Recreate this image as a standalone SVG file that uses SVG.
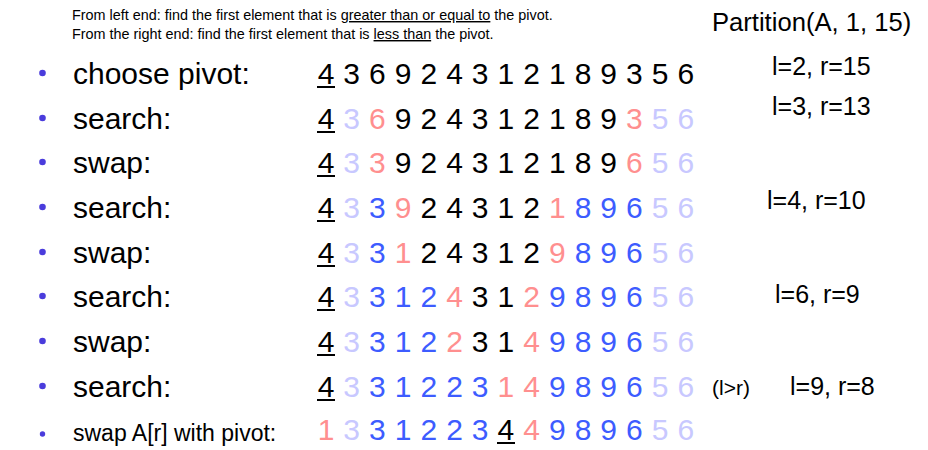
<svg xmlns="http://www.w3.org/2000/svg" width="928" height="450" viewBox="0 0 928 450">
<style>
text{font-family:"Liberation Sans",Arial,sans-serif;fill:#000}
.note{font-size:14.4px}
.lbl{font-size:30px}
.small{font-size:23px}
.d{font-size:30px;text-anchor:middle}
.st{font-size:25px}
.k{fill:#000}.l{fill:#c8c8ff}.p{fill:#ff8f8f}.b{fill:#3d5cff}
.bul{fill:#4a3cdc}
.ul{stroke:#000;stroke-width:2}
</style>
<rect width="928" height="450" fill="#fff"/>
<g id="notes">
<text class="note" x="72" y="20">From left end: find the first element that is <tspan text-decoration="underline" style="text-decoration-color:#777">greater than or equal to</tspan> the pivot.</text>
<text class="note" x="72" y="39">From the right end: find the first element that is <tspan text-decoration="underline">less than</tspan> the pivot.</text>
</g>
<g id="title"><text class="st" x="712" y="31" style="font-size:25.6px">Partition(A, 1, 15)</text></g>
<g id="state">
<text class="st" x="772" y="75">l=2, r=15</text>
<text class="st" x="772" y="115">l=3, r=13</text>
<text class="st" x="767" y="209">l=4, r=10</text>
<text class="st" x="775" y="303">l=6, r=9</text>
<text class="small" x="712" y="395" style="font-size:21px">(l&gt;r)</text>
<text class="st" x="790" y="395">l=9, r=8</text>
</g>
<g id="labels">
<circle class="bul" cx="42.5" cy="73" r="3.3"/><text class="lbl" x="73" y="84">choose pivot:</text>
<circle class="bul" cx="42.5" cy="118" r="3.3"/><text class="lbl" x="73" y="129">search:</text>
<circle class="bul" cx="42.5" cy="162" r="3.3"/><text class="lbl" x="73" y="173">swap:</text>
<circle class="bul" cx="42.5" cy="207" r="3.3"/><text class="lbl" x="73" y="218">search:</text>
<circle class="bul" cx="42.5" cy="252" r="3.3"/><text class="lbl" x="73" y="263">swap:</text>
<circle class="bul" cx="42.5" cy="296" r="3.3"/><text class="lbl" x="73" y="307">search:</text>
<circle class="bul" cx="42.5" cy="341" r="3.3"/><text class="lbl" x="73" y="352">swap:</text>
<circle class="bul" cx="42.5" cy="386" r="3.3"/><text class="lbl" x="73" y="397">search:</text>
<circle class="bul" cx="42.5" cy="434" r="2.7"/><text class="small" x="73" y="441">swap A[r] with pivot:</text>
</g>
<g id="row1">
<text class="d k" x="326" y="84">4</text><text class="d k" x="351.7" y="84">3</text><text class="d k" x="377.4" y="84">6</text><text class="d k" x="403.1" y="84">9</text><text class="d k" x="428.8" y="84">2</text><text class="d k" x="454.5" y="84">4</text><text class="d k" x="480.2" y="84">3</text><text class="d k" x="505.9" y="84">1</text><text class="d k" x="531.6" y="84">2</text><text class="d k" x="557.3" y="84">1</text><text class="d k" x="583" y="84">8</text><text class="d k" x="608.7" y="84">9</text><text class="d k" x="634.4" y="84">3</text><text class="d k" x="660.1" y="84">5</text><text class="d k" x="685.8" y="84">6</text>
<line class="ul" x1="317" y1="87" x2="335" y2="87"/>
</g>
<g id="row2">
<text class="d k" x="326" y="129">4</text><text class="d l" x="351.7" y="129">3</text><text class="d p" x="377.4" y="129">6</text><text class="d k" x="403.1" y="129">9</text><text class="d k" x="428.8" y="129">2</text><text class="d k" x="454.5" y="129">4</text><text class="d k" x="480.2" y="129">3</text><text class="d k" x="505.9" y="129">1</text><text class="d k" x="531.6" y="129">2</text><text class="d k" x="557.3" y="129">1</text><text class="d k" x="583" y="129">8</text><text class="d k" x="608.7" y="129">9</text><text class="d p" x="634.4" y="129">3</text><text class="d l" x="660.1" y="129">5</text><text class="d l" x="685.8" y="129">6</text>
<line class="ul" x1="317" y1="132" x2="335" y2="132"/>
</g>
<g id="row3">
<text class="d k" x="326" y="173">4</text><text class="d l" x="351.7" y="173">3</text><text class="d p" x="377.4" y="173">3</text><text class="d k" x="403.1" y="173">9</text><text class="d k" x="428.8" y="173">2</text><text class="d k" x="454.5" y="173">4</text><text class="d k" x="480.2" y="173">3</text><text class="d k" x="505.9" y="173">1</text><text class="d k" x="531.6" y="173">2</text><text class="d k" x="557.3" y="173">1</text><text class="d k" x="583" y="173">8</text><text class="d k" x="608.7" y="173">9</text><text class="d p" x="634.4" y="173">6</text><text class="d l" x="660.1" y="173">5</text><text class="d l" x="685.8" y="173">6</text>
<line class="ul" x1="317" y1="176" x2="335" y2="176"/>
</g>
<g id="row4">
<text class="d k" x="326" y="218">4</text><text class="d l" x="351.7" y="218">3</text><text class="d b" x="377.4" y="218">3</text><text class="d p" x="403.1" y="218">9</text><text class="d k" x="428.8" y="218">2</text><text class="d k" x="454.5" y="218">4</text><text class="d k" x="480.2" y="218">3</text><text class="d k" x="505.9" y="218">1</text><text class="d k" x="531.6" y="218">2</text><text class="d p" x="557.3" y="218">1</text><text class="d b" x="583" y="218">8</text><text class="d b" x="608.7" y="218">9</text><text class="d b" x="634.4" y="218">6</text><text class="d l" x="660.1" y="218">5</text><text class="d l" x="685.8" y="218">6</text>
<line class="ul" x1="317" y1="221" x2="335" y2="221"/>
</g>
<g id="row5">
<text class="d k" x="326" y="263">4</text><text class="d l" x="351.7" y="263">3</text><text class="d b" x="377.4" y="263">3</text><text class="d p" x="403.1" y="263">1</text><text class="d k" x="428.8" y="263">2</text><text class="d k" x="454.5" y="263">4</text><text class="d k" x="480.2" y="263">3</text><text class="d k" x="505.9" y="263">1</text><text class="d k" x="531.6" y="263">2</text><text class="d p" x="557.3" y="263">9</text><text class="d b" x="583" y="263">8</text><text class="d b" x="608.7" y="263">9</text><text class="d b" x="634.4" y="263">6</text><text class="d l" x="660.1" y="263">5</text><text class="d l" x="685.8" y="263">6</text>
<line class="ul" x1="317" y1="266" x2="335" y2="266"/>
</g>
<g id="row6">
<text class="d k" x="326" y="307">4</text><text class="d l" x="351.7" y="307">3</text><text class="d b" x="377.4" y="307">3</text><text class="d b" x="403.1" y="307">1</text><text class="d b" x="428.8" y="307">2</text><text class="d p" x="454.5" y="307">4</text><text class="d k" x="480.2" y="307">3</text><text class="d k" x="505.9" y="307">1</text><text class="d p" x="531.6" y="307">2</text><text class="d b" x="557.3" y="307">9</text><text class="d b" x="583" y="307">8</text><text class="d b" x="608.7" y="307">9</text><text class="d b" x="634.4" y="307">6</text><text class="d l" x="660.1" y="307">5</text><text class="d l" x="685.8" y="307">6</text>
<line class="ul" x1="317" y1="310" x2="335" y2="310"/>
</g>
<g id="row7">
<text class="d k" x="326" y="352">4</text><text class="d l" x="351.7" y="352">3</text><text class="d b" x="377.4" y="352">3</text><text class="d b" x="403.1" y="352">1</text><text class="d b" x="428.8" y="352">2</text><text class="d p" x="454.5" y="352">2</text><text class="d k" x="480.2" y="352">3</text><text class="d k" x="505.9" y="352">1</text><text class="d p" x="531.6" y="352">4</text><text class="d b" x="557.3" y="352">9</text><text class="d b" x="583" y="352">8</text><text class="d b" x="608.7" y="352">9</text><text class="d b" x="634.4" y="352">6</text><text class="d l" x="660.1" y="352">5</text><text class="d l" x="685.8" y="352">6</text>
<line class="ul" x1="317" y1="355" x2="335" y2="355"/>
</g>
<g id="row8">
<text class="d k" x="326" y="397">4</text><text class="d l" x="351.7" y="397">3</text><text class="d b" x="377.4" y="397">3</text><text class="d b" x="403.1" y="397">1</text><text class="d b" x="428.8" y="397">2</text><text class="d b" x="454.5" y="397">2</text><text class="d b" x="480.2" y="397">3</text><text class="d p" x="505.9" y="397">1</text><text class="d p" x="531.6" y="397">4</text><text class="d b" x="557.3" y="397">9</text><text class="d b" x="583" y="397">8</text><text class="d b" x="608.7" y="397">9</text><text class="d b" x="634.4" y="397">6</text><text class="d l" x="660.1" y="397">5</text><text class="d l" x="685.8" y="397">6</text>
<line class="ul" x1="317" y1="400" x2="335" y2="400"/>
</g>
<g id="row9">
<text class="d p" x="326" y="440">1</text><text class="d l" x="351.7" y="440">3</text><text class="d b" x="377.4" y="440">3</text><text class="d b" x="403.1" y="440">1</text><text class="d b" x="428.8" y="440">2</text><text class="d b" x="454.5" y="440">2</text><text class="d b" x="480.2" y="440">3</text><text class="d k" x="505.9" y="440">4</text><text class="d p" x="531.6" y="440">4</text><text class="d b" x="557.3" y="440">9</text><text class="d b" x="583" y="440">8</text><text class="d b" x="608.7" y="440">9</text><text class="d b" x="634.4" y="440">6</text><text class="d l" x="660.1" y="440">5</text><text class="d l" x="685.8" y="440">6</text>
<line class="ul" x1="497" y1="443" x2="515" y2="443"/>
</g>
</svg>
